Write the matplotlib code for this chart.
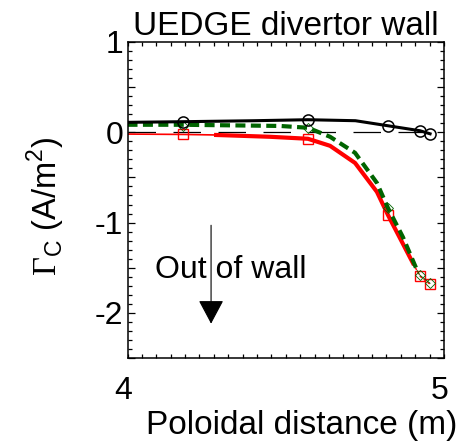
import matplotlib
matplotlib.use("Agg")
import matplotlib.pyplot as plt
import matplotlib.transforms as mtransforms
import numpy as np

plt.rcParams['font.family'] = ['Liberation Sans', 'DejaVu Sans']
plt.rcParams['mathtext.fontset'] = 'custom'
plt.rcParams['mathtext.rm'] = 'Liberation Serif'
plt.rcParams['mathtext.sf'] = 'Liberation Sans'

# marker positions (shared by all three cases)
x_mark = [4.175, 4.57, 4.823, 4.924, 4.956]

# black: solid with circles
x_black = [4.0, 4.175, 4.40, 4.57, 4.72, 4.823, 4.924, 4.956]
y_black = [0.11, 0.117, 0.128, 0.139, 0.128, 0.072, 0.017, -0.017]
y_black_mark = [0.117, 0.139, 0.072, 0.017, -0.017]

# red: thick line, thin ends, squares
x_red = [4.28, 4.45, 4.57, 4.64, 4.719, 4.788, 4.823, 4.902]
y_red = [-0.03, -0.05, -0.072, -0.15, -0.34, -0.66, -0.917, -1.45]
x_red_left = [4.0, 4.175, 4.28]
y_red_left = [-0.02, -0.024, -0.03]
x_red_right = [4.902, 4.924, 4.956]
y_red_right = [-1.45, -1.594, -1.683]
y_red_mark = [-0.024, -0.072, -0.917, -1.594, -1.683]

# green: thick dashed, thin end, diamonds
x_green = [4.0, 4.175, 4.482, 4.57, 4.64, 4.719, 4.788, 4.823, 4.87, 4.915]
y_green = [0.083, 0.083, 0.07, 0.05, -0.05, -0.228, -0.561, -0.839, -1.16, -1.53]
x_green_right = [4.915, 4.924, 4.956]
y_green_right = [-1.53, -1.583, -1.672]
y_green_mark = [0.07, 0.05, -0.839, -1.583, -1.672]

# reference zero line
x_zero = [4.0, 4.93]
y_zero = [0.0, 0.0]

fig = plt.figure(figsize=(4.70, 4.47), dpi=100)
ax = fig.add_axes([0.2713, 0.1991, 0.6734, 0.707])

ax.plot(x_zero, y_zero, color='black', lw=0.9, dashes=(22, 14))
ax.plot(x_red_left, y_red_left, color='red', lw=1.2)
ax.plot(x_red, y_red, color='red', lw=3.0)
ax.plot(x_red_right, y_red_right, color='red', lw=1.0, ls=(0, (2, 1.5)))
ax.plot(x_mark, y_red_mark, ls='none', marker='s', ms=7, mfc='none', mec='red', mew=1.0)
ax.plot(x_green, y_green, color='#006400', lw=3.0, dashes=(2.4, 1.3))
ax.plot(x_green_right, y_green_right, color='#006400', lw=0.6)
ax.plot(x_mark, y_green_mark, ls='none', marker='D', ms=5, mfc='none', mec='#006400', mew=0.6)
ax.plot(x_black, y_black, color='black', lw=2.2)
ax.plot(x_mark, y_black_mark, ls='none', marker='o', ms=8, mfc='none', mec='black', mew=1.1)

ax.annotate('', xy=(4.264, -2.12), xytext=(4.264, -1.03),
            arrowprops=dict(arrowstyle='-|>,head_length=0.75,head_width=0.4',
                            mutation_scale=20, color='black', lw=0.8, shrinkA=0, shrinkB=0))
ax.text(4.087, -1.617, 'Out of wall', fontsize=23, va='baseline', ha='left')

ax.set_xlim(4, 5)
ax.set_ylim(-2.5, 1)
ax.set_xticks([4, 5])
ax.set_xticklabels(['4', '5'])
ax.set_xticks(np.linspace(4, 5, 23), minor=True)
yt = np.arange(-2.5, 1.01, 0.5)
ax.set_yticks(yt)
ax.set_yticklabels([('%d' % v) if float(v).is_integer() else '' for v in yt])
ax.set_yticks(np.arange(-2.5, 1.01, 0.1), minor=True)

ax.tick_params(axis='both', which='both', direction='in', top=True, right=True, width=0.9)
ax.tick_params(axis='y', which='major', length=5, labelsize=23, pad=3)
ax.tick_params(axis='y', which='minor', length=3)
ax.tick_params(axis='x', which='both', length=3)
ax.tick_params(axis='x', which='major', labelsize=23, pad=13)
for s in ax.spines.values():
    s.set_linewidth(1.1)

off = mtransforms.ScaledTranslation(-4 / 100, 0, fig.dpi_scale_trans)
for lab in ax.get_xticklabels():
    lab.set_transform(lab.get_transform() + off)

ax.set_title('UEDGE divertor wall', fontsize=24, pad=5)
ax.set_xlabel('Poloidal distance (m)', fontsize=24)
ax.xaxis.set_label_coords(0.551, -0.165)
ax.set_ylabel(r'$\Gamma_{\mathsf{C}}$ (A/m$^{\mathsf{2}}$)', fontsize=23.5)
ax.yaxis.set_label_coords(-0.19, 0.479)

fig.savefig('out.png', dpi=100)
